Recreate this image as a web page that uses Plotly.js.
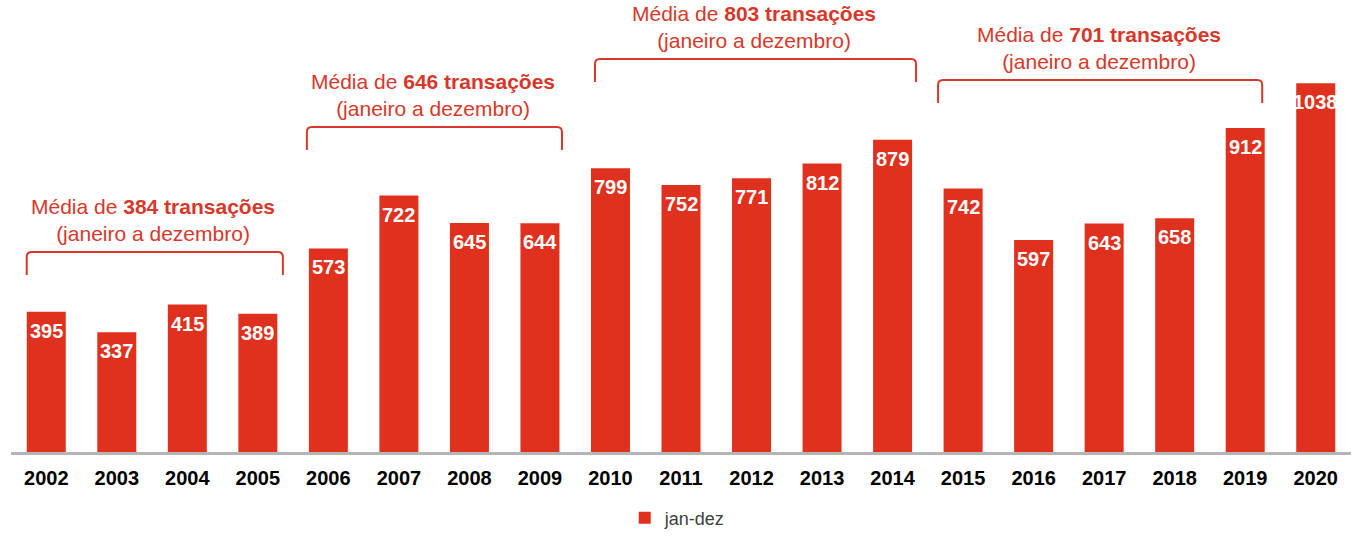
<!DOCTYPE html>
<html>
<head>
<meta charset="utf-8">
<script src="https://cdn.plot.ly/plotly-3.0.1.min.js"></script>
<style>
  html, body { margin: 0; padding: 0; background: #fff; }
  #chart { width: 1371px; height: 537px; }
</style>
</head>
<body>
<div id="chart"></div>
<script>
// yearly totals, jan-dez
const years = ['2002', '2003', '2004', '2005', '2006', '2007', '2008', '2009', '2010', '2011',
               '2012', '2013', '2014', '2015', '2016', '2017', '2018', '2019', '2020'];
const values = [395, 337, 415, 389, 573, 722, 645, 644, 799, 752,
                771, 812, 879, 742, 597, 643, 658, 912, 1038];

// period averages (first and last year index of each bracket)
const groupStart = [0, 4, 8, 13];
const groupEnd = [3, 7, 12, 17];
const groupAvg = [384, 646, 803, 701];

const RED = '#e0301e';
const TEXT_RED = '#d6382a';
const FONT = 'Liberation Sans, Arial, sans-serif';

// x is the year's position, ticks carry the year text
const pos = years.map((y, i) => i);

// plot area is 452px tall starting at the top of the page
const PLOT_H = 452;
const px2paper = py => (PLOT_H - py) / PLOT_H;

// bracket placement: top line in page pixels, leg length, how far the ends
// reach past the first/last bar centre (in category widths)
const bracketTop = [252, 127, 59, 80];
const bracketLeg = 23;
const padLeft = [0.277, 0.305, 0.22, 0.355];
const padRight = [0.355, 0.312, 0.333, 0.241];

const shapes = [];
const annotations = [];

groupStart.forEach((s, i) => {
    const x0 = s - padLeft[i], x1 = groupEnd[i] + padRight[i];
    const yt = px2paper(bracketTop[i]);
    const yb = px2paper(bracketTop[i] + bracketLeg);
    const rx = 0.07, ry = 5 / PLOT_H;
    shapes.push({
        type: 'path', xref: 'x', yref: 'paper',
        path: `M${x0},${yb} L${x0},${yt - ry} Q${x0},${yt} ${x0 + rx},${yt} ` +
              `L${x1 - rx},${yt} Q${x1},${yt} ${x1},${yt - ry} L${x1},${yb}`,
        line: { color: TEXT_RED, width: 2 }
    });
    annotations.push({
        xref: 'x', yref: 'paper',
        x: (x0 + x1) / 2 - 0.02, y: px2paper(bracketTop[i] - 32),
        xanchor: 'center', yanchor: 'middle',
        text: `Média de <b>${groupAvg[i]} transações</b><br>(janeiro a dezembro)`,
        showarrow: false,
        font: { family: FONT, size: 21, color: TEXT_RED }
    });
});

// value labels at the top of each bar
pos.forEach((p, i) => {
    annotations.push({
        xref: 'x', yref: 'y', x: p, y: values[i],
        xanchor: 'center', yanchor: 'top', yshift: -6,
        text: String(values[i]), showarrow: false,
        font: { family: FONT, size: 20, color: '#ffffff', weight: 'bold' }
    });
});

const data = [{
    type: 'bar',
    x: pos,
    y: values,
    name: 'jan-dez',
    marker: { color: RED },
    hoverinfo: 'y'
}];

const layout = {
    width: 1371,
    height: 537,
    margin: { l: 11, r: 20, t: 0, b: 85 },
    paper_bgcolor: '#ffffff',
    plot_bgcolor: '#ffffff',
    bargap: 0.447,
    xaxis: {
        range: [-0.5, years.length - 0.5],
        tickvals: pos,
        ticktext: years,
        showline: true,
        linecolor: '#b5b5b5',
        linewidth: 2.5,
        ticks: '',
        showgrid: false,
        zeroline: false,
        tickfont: { family: FONT, size: 20, color: '#000000', weight: 'bold' },
        ticklabelstandoff: 6
    },
    yaxis: {
        range: [0, PLOT_H / 0.3552],
        visible: false,
        showgrid: false,
        zeroline: false
    },
    showlegend: true,
    legend: {
        orientation: 'h',
        x: 0.458, xanchor: 'left',
        y: px2paper(518), yanchor: 'middle',
        font: { family: FONT, size: 18, color: '#404040' },
        itemwidth: 30
    },
    shapes: shapes,
    annotations: annotations
};

Plotly.newPlot('chart', data, layout, { displayModeBar: false, staticPlot: true });
</script>
</body>
</html>
